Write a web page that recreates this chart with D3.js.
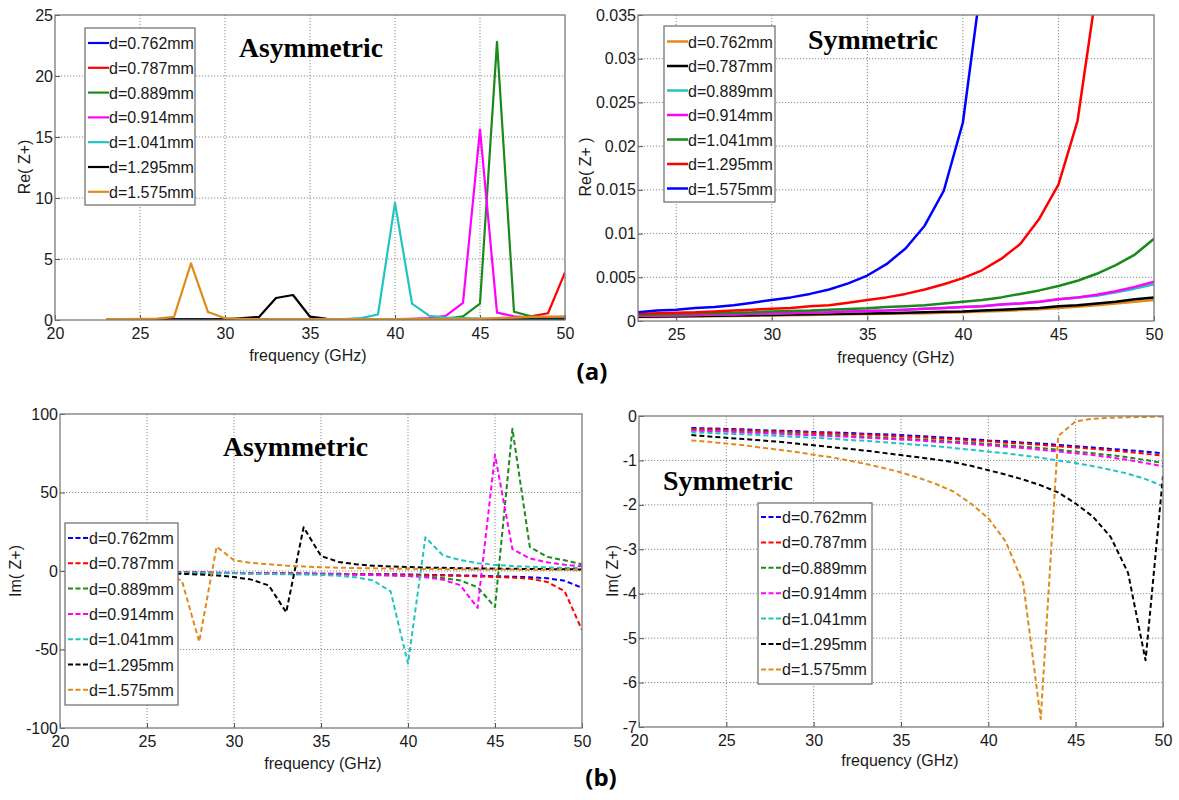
<!DOCTYPE html>
<html>
<head>
<meta charset="utf-8">
<script src="https://cdn.jsdelivr.net/npm/d3@7"></script>
<style>
  html, body { margin: 0; padding: 0; background: #fff; }
  svg { display: block; }
</style>
</head>
<body>
<svg id="fig" width="1179" height="800" font-family="'Liberation Sans', Arial, sans-serif"></svg>
<script>
// Frequency samples (GHz)
const freqs = [23,24,25,26,27,28,29,30,31,32,33,34,35,36,37,38,39,40,41,42,43,44,45,46,47,48,49,50];

// Substrate thicknesses shown in the legends
const thicknessLabels = ["d=0.762mm","d=0.787mm","d=0.889mm","d=0.914mm","d=1.041mm","d=1.295mm","d=1.575mm"];

// Line colours, asymmetric panels (legend order)
const asymColors = ["#0000ff","#ff0000","#1a8a1a","#ff00ff","#22c3c3","#000000","#e08a1c"];
// Line colours, symmetric Re panel (legend order)
const symReColors = ["#e08a1c","#000000","#22c3c3","#ff00ff","#1a8a1a","#ff0000","#0000ff"];
// Line colours, symmetric Im panel (legend order)
const symImColors = ["#0000ff","#ff0000","#1a8a1a","#ff00ff","#22c3c3","#000000","#e08a1c"];

// Re(Z+) asymmetric
const reAsym0762 = [0.03,0.03,0.03,0.03,0.03,0.03,0.03,0.03,0.03,0.03,0.03,0.03,0.03,0.03,0.03,0.03,0.03,0.03,0.03,0.03,0.03,0.03,0.03,0.04,0.05,0.06,0.08,0.1];
const reAsym0787 = [0.03,0.03,0.03,0.03,0.03,0.03,0.03,0.03,0.03,0.03,0.03,0.03,0.03,0.03,0.03,0.03,0.03,0.03,0.03,0.03,0.03,0.04,0.05,0.07,0.12,0.3,0.55,3.9];
const reAsym0889 = [0.03,0.03,0.03,0.03,0.03,0.03,0.03,0.03,0.03,0.03,0.03,0.03,0.03,0.03,0.03,0.03,0.03,0.03,0.04,0.06,0.1,0.3,1.35,22.8,0.68,0.3,0.2,0.15];
const reAsym0914 = [0.03,0.03,0.03,0.03,0.03,0.03,0.03,0.03,0.03,0.03,0.03,0.03,0.03,0.03,0.03,0.03,0.04,0.06,0.1,0.15,0.35,1.4,15.6,0.6,0.3,0.2,0.15,0.1];
const reAsym1041 = [0.03,0.03,0.03,0.03,0.03,0.03,0.03,0.03,0.03,0.03,0.03,0.03,0.03,0.03,0.08,0.15,0.45,9.6,1.35,0.35,0.2,0.15,0.12,0.1,0.1,0.1,0.1,0.1];
const reAsym1295 = [0.05,0.05,0.05,0.05,0.05,0.05,0.05,0.05,0.15,0.25,1.8,2.05,0.27,0.1,0.05,0.05,0.05,0.05,0.05,0.05,0.05,0.05,0.05,0.05,0.05,0.05,0.05,0.05];
const reAsym1575 = [0.08,0.08,0.09,0.12,0.25,4.65,0.65,0.15,0.1,0.08,0.08,0.08,0.08,0.08,0.08,0.08,0.08,0.08,0.1,0.1,0.1,0.1,0.1,0.15,0.2,0.25,0.28,0.3];

// Re(Z+) symmetric (curves that leave the top of the axes stop at their last sample)
const reSym0762 = [0.00045,0.00047,0.0005,0.00052,0.00055,0.00058,0.0006,0.00063,0.00066,0.0007,0.00073,0.00076,0.0008,0.00083,0.00087,0.0009,0.00095,0.001,0.00108,0.00115,0.00125,0.00135,0.0015,0.00163,0.0018,0.002,0.0022,0.0024];
const reSym0787 = [0.0005,0.00052,0.00055,0.00058,0.0006,0.00063,0.00066,0.0007,0.00073,0.00076,0.0008,0.00083,0.00087,0.0009,0.00095,0.001,0.00105,0.0011,0.0012,0.00128,0.0014,0.0015,0.0017,0.0018,0.002,0.0022,0.0025,0.0027];
const reSym0889 = [0.0006,0.00063,0.00066,0.0007,0.00074,0.00078,0.00082,0.00087,0.00092,0.00097,0.001,0.0011,0.00115,0.0012,0.0013,0.0014,0.0015,0.0016,0.0017,0.0019,0.002,0.0022,0.0025,0.0027,0.0029,0.0033,0.0037,0.0042];
const reSym0914 = [0.0006,0.00063,0.00066,0.0007,0.00074,0.00078,0.00082,0.00087,0.00092,0.00097,0.001,0.0011,0.00115,0.0012,0.0013,0.0014,0.0015,0.0016,0.0017,0.0019,0.002,0.0022,0.0025,0.0027,0.003,0.0034,0.0039,0.0045];
const reSym1041 = [0.0007,0.00075,0.0008,0.00085,0.0009,0.00095,0.001,0.0011,0.00115,0.0012,0.0013,0.00138,0.00145,0.0016,0.0017,0.0018,0.002,0.0022,0.0024,0.0027,0.0031,0.0035,0.004,0.0046,0.0054,0.0064,0.0076,0.0094];
const reSym1295 = [0.0008,0.0009,0.00095,0.001,0.0011,0.0012,0.0013,0.0014,0.0015,0.0017,0.0018,0.0021,0.0024,0.0027,0.0031,0.0036,0.0042,0.0049,0.0058,0.0071,0.0088,0.0117,0.0156,0.0229,0.038];
const reSym1575 = [0.001,0.0012,0.0013,0.0015,0.0016,0.0018,0.0021,0.0024,0.0027,0.0031,0.0036,0.0043,0.0052,0.0065,0.0083,0.0109,0.0149,0.0227,0.0393];

// Im(Z+) asymmetric
const imAsym0762 = [-0.5,-0.6,-0.7,-0.8,-0.9,-1.0,-1.1,-1.2,-1.3,-1.4,-1.5,-1.6,-1.7,-1.8,-1.9,-2.0,-2.1,-2.2,-2.4,-2.6,-2.8,-3.0,-3.3,-3.6,-4.0,-4.6,-6.2,-10.7];
const imAsym0787 = [-0.6,-0.7,-0.8,-0.9,-1.0,-1.1,-1.2,-1.3,-1.4,-1.5,-1.6,-1.7,-1.8,-1.9,-2.0,-2.1,-2.3,-2.5,-2.7,-2.9,-3.1,-3.4,-3.8,-4.2,-4.9,-7.0,-12.8,-37.6];
const imAsym0889 = [-0.6,-0.7,-0.8,-0.9,-1.0,-1.1,-1.2,-1.3,-1.4,-1.5,-1.6,-1.7,-1.9,-2.0,-2.2,-2.4,-2.7,-3.0,-3.5,-4.5,-6.0,-10.3,-23.0,90.6,15.4,9.0,6.8,4.3];
const imAsym0914 = [-0.6,-0.7,-0.8,-0.9,-1.0,-1.1,-1.2,-1.3,-1.4,-1.5,-1.7,-1.8,-2.0,-2.2,-2.4,-2.6,-2.9,-3.2,-4.0,-5.5,-9.0,-23.5,74.0,14.0,8.0,5.5,4.0,3.0];
const imAsym1041 = [-0.8,-0.9,-1.0,-1.1,-1.2,-1.3,-1.4,-1.5,-1.7,-1.9,-2.1,-2.3,-2.5,-3.0,-4.0,-6.0,-13.0,-59.0,21.5,10.0,7.0,5.0,3.9,3.2,2.7,2.3,2.0,1.8];
const imAsym1295 = [-1.0,-1.1,-1.3,-1.5,-1.8,-2.2,-2.8,-3.8,-5.5,-9.2,-26.3,27.8,9.6,5.8,4.3,3.4,2.9,2.5,2.2,2.0,1.8,1.6,1.5,1.4,1.3,1.2,1.1,1.0];
const imAsym1575 = [-1.5,-1.8,-2.2,-3.0,-6.0,-45.0,15.5,6.8,5.2,4.3,3.4,2.9,2.4,2.1,1.9,1.7,1.5,1.4,1.3,1.2,1.1,1.0,0.95,0.9,0.85,0.8,0.75,0.7];

// Im(Z+) symmetric
const imSym0762 = [-0.27,-0.28,-0.29,-0.30,-0.32,-0.33,-0.34,-0.36,-0.37,-0.38,-0.40,-0.41,-0.43,-0.45,-0.47,-0.50,-0.52,-0.55,-0.57,-0.60,-0.62,-0.65,-0.68,-0.71,-0.74,-0.77,-0.80,-0.84];
const imSym0787 = [-0.29,-0.30,-0.31,-0.32,-0.34,-0.35,-0.36,-0.38,-0.39,-0.41,-0.42,-0.44,-0.46,-0.48,-0.50,-0.52,-0.55,-0.57,-0.60,-0.62,-0.65,-0.68,-0.71,-0.74,-0.77,-0.81,-0.85,-0.89];
const imSym0889 = [-0.32,-0.33,-0.34,-0.36,-0.37,-0.38,-0.40,-0.42,-0.43,-0.45,-0.47,-0.49,-0.51,-0.53,-0.55,-0.58,-0.60,-0.63,-0.66,-0.69,-0.72,-0.76,-0.80,-0.84,-0.88,-0.93,-0.99,-1.06];
const imSym0914 = [-0.33,-0.34,-0.35,-0.37,-0.38,-0.40,-0.42,-0.43,-0.45,-0.47,-0.49,-0.51,-0.53,-0.55,-0.58,-0.60,-0.63,-0.66,-0.69,-0.72,-0.76,-0.80,-0.84,-0.88,-0.93,-0.99,-1.06,-1.13];
const imSym1041 = [-0.37,-0.38,-0.40,-0.41,-0.43,-0.45,-0.47,-0.49,-0.51,-0.54,-0.56,-0.59,-0.62,-0.65,-0.68,-0.72,-0.76,-0.80,-0.84,-0.89,-0.94,-1.00,-1.06,-1.13,-1.21,-1.30,-1.42,-1.58];
const imSym1295 = [-0.43,-0.46,-0.49,-0.52,-0.55,-0.58,-0.62,-0.66,-0.70,-0.74,-0.78,-0.83,-0.88,-0.93,-0.98,-1.04,-1.12,-1.22,-1.32,-1.43,-1.56,-1.72,-1.97,-2.27,-2.72,-3.53,-5.50,-1.35];
const imSym1575 = [-0.55,-0.58,-0.62,-0.66,-0.71,-0.76,-0.81,-0.87,-0.93,-1.00,-1.08,-1.17,-1.27,-1.39,-1.53,-1.70,-1.97,-2.30,-2.83,-3.77,-6.82,-0.45,-0.12,-0.06,-0.04,-0.03,-0.02,-0.01];

// Axis ticks
const freqTicksFull = [20,25,30,35,40,45,50];
const freqTicksSym = [25,30,35,40,45,50];
const reAsymTicks = [0,5,10,15,20,25];
const reSymTicks = [0,0.005,0.01,0.015,0.02,0.025,0.03,0.035];
const imAsymTicks = [-100,-50,0,50,100];
const imSymTicks = [-7,-6,-5,-4,-3,-2,-1,0];

const svg = d3.select("#fig");
const SANS = "'Liberation Sans', Arial, sans-serif";
const SERIF = "'Liberation Serif', 'Times New Roman', serif";

function drawPanel(p) {
  const g = svg.append("g");
  const x = d3.scaleLinear().domain(p.xDomain).range([p.x0, p.x1]);
  const y = d3.scaleLinear().domain(p.yDomain).range([p.y1, p.y0]);

  // dotted grid
  const grid = g.append("g").attr("stroke", "#8a8a8a").attr("stroke-width", 1)
    .attr("stroke-dasharray", "1.2,1.8");
  p.xTicks.filter(t => t > p.xDomain[0] && t < p.xDomain[1]).forEach(t => {
    grid.append("line").attr("x1", x(t)).attr("x2", x(t)).attr("y1", p.y0).attr("y2", p.y1);
  });
  p.yTicks.filter(t => t > p.yDomain[0] && t < p.yDomain[1]).forEach(t => {
    grid.append("line").attr("x1", p.x0).attr("x2", p.x1).attr("y1", y(t)).attr("y2", y(t));
  });

  // axes with inward ticks
  const xa = g.append("g").attr("transform", `translate(0,${p.y1})`)
    .call(d3.axisBottom(x).tickValues(p.xTicks).tickFormat(d => String(d)).tickSize(-5).tickPadding(8));
  const ya = g.append("g").attr("transform", `translate(${p.x0},0)`)
    .call(d3.axisLeft(y).tickValues(p.yTicks).tickFormat(d => String(d)).tickSize(-5).tickPadding(2));
  [xa, ya].forEach(a => {
    a.attr("font-family", null).attr("font-size", null);
    a.select(".domain").remove();
    a.selectAll(".tick line").attr("stroke", "#555");
    a.selectAll(".tick text").style("font-family", SANS)
      .style("font-size", "16px").attr("fill", "#1a1a1a");
  });

  // series
  const clipId = "clip" + p.id;
  g.append("clipPath").attr("id", clipId).append("rect")
    .attr("x", p.x0).attr("y", p.y0).attr("width", p.x1 - p.x0).attr("height", p.y1 - p.y0);
  const line = d3.line().x((d, i) => x(freqs[i])).y(d => y(d));
  const lines = g.append("g").attr("clip-path", `url(#${clipId})`);
  p.series.forEach((s, k) => {
    lines.append("path").attr("d", line(s)).attr("fill", "none")
      .attr("stroke", p.colors[k]).attr("stroke-width", p.lineWidth)
      .attr("stroke-linejoin", "round")
      .attr("stroke-dasharray", p.dashed ? "5,3" : null);
  });

  // frame
  g.append("rect").attr("x", p.x0).attr("y", p.y0).attr("width", p.x1 - p.x0).attr("height", p.y1 - p.y0)
    .attr("fill", "none").attr("stroke", "#7a7a7a").attr("stroke-width", 1.3);

  // axis titles
  g.append("text").attr("x", p.xLabelPos[0]).attr("y", p.xLabelPos[1]).attr("text-anchor", "middle")
    .style("font-family", SANS).style("font-size", "16px").attr("fill", "#1a1a1a").text("frequency (GHz)");
  g.append("text").attr("transform", `translate(${p.yLabelPos[0]},${p.yLabelPos[1]}) rotate(-90)`)
    .attr("text-anchor", "middle").style("font-family", SANS).style("font-size", "16px")
    .attr("fill", "#1a1a1a").text(p.yLabel);

  // panel title
  g.append("text").attr("x", p.titlePos[0]).attr("y", p.titlePos[1])
    .style("font-family", SERIF).style("font-weight", "bold").style("font-size", "27px")
    .attr("fill", "#000").attr("textLength", p.titleWidth)
    .attr("lengthAdjust", "spacingAndGlyphs").text(p.title);

  // legend
  const L = p.legend;
  const lg = g.append("g");
  lg.append("rect").attr("x", L.x).attr("y", L.y).attr("width", L.w).attr("height", L.h)
    .attr("fill", "#fff").attr("stroke", "#6a6a6a").attr("stroke-width", 1.2);
  thicknessLabels.forEach((lab, k) => {
    const cy = L.firstRow + k * L.step;
    lg.append("line").attr("x1", L.x + 3).attr("x2", L.x + 24).attr("y1", cy).attr("y2", cy)
      .attr("stroke", p.colors[k]).attr("stroke-width", p.lineWidth)
      .attr("stroke-dasharray", p.dashed ? "5,2.5" : null);
    lg.append("text").attr("x", L.x + 24).attr("y", cy + 6)
      .style("font-family", SANS).style("font-size", "16px")
      .attr("fill", "#1a1a1a").text(lab);
  });
}

drawPanel({
  id: "A", x0: 55, x1: 565, y0: 15, y1: 320,
  xDomain: [20, 50], yDomain: [0, 25], xTicks: freqTicksFull, yTicks: reAsymTicks,
  series: [reAsym0762, reAsym0787, reAsym0889, reAsym0914, reAsym1041, reAsym1295, reAsym1575],
  colors: asymColors, dashed: false, lineWidth: 2.2,
  yLabel: "Re( Z+)", yLabelPos: [30, 167], xLabelPos: [308, 361],
  title: "Asymmetric", titlePos: [239, 57], titleWidth: 144,
  legend: { x: 85, y: 28, w: 110, h: 177, firstRow: 43, step: 24.8 }
});

drawPanel({
  id: "B", x0: 638, x1: 1154, y0: 15, y1: 321,
  xDomain: [23, 50], yDomain: [0, 0.035], xTicks: freqTicksSym, yTicks: reSymTicks,
  series: [reSym0762, reSym0787, reSym0889, reSym0914, reSym1041, reSym1295, reSym1575],
  colors: symReColors, dashed: false, lineWidth: 2.5,
  yLabel: "Re( Z+ )", yLabelPos: [591, 167], xLabelPos: [896, 363],
  title: "Symmetric", titlePos: [808, 49], titleWidth: 130,
  legend: { x: 664, y: 26, w: 111, h: 176, firstRow: 41.5, step: 24.5 }
});

drawPanel({
  id: "C", x0: 60, x1: 582, y0: 414, y1: 728,
  xDomain: [20, 50], yDomain: [-100, 100], xTicks: freqTicksFull, yTicks: imAsymTicks,
  series: [imAsym0762, imAsym0787, imAsym0889, imAsym0914, imAsym1041, imAsym1295, imAsym1575],
  colors: asymColors, dashed: true, lineWidth: 2,
  yLabel: "Im( Z+)", yLabelPos: [21, 571], xLabelPos: [323, 769],
  title: "Asymmetric", titlePos: [223, 456], titleWidth: 145,
  legend: { x: 65, y: 523, w: 113, h: 182, firstRow: 538, step: 25.3 }
});

drawPanel({
  id: "D", x0: 639, x1: 1163, y0: 416, y1: 727,
  xDomain: [20, 50], yDomain: [-7, 0], xTicks: freqTicksFull, yTicks: imSymTicks,
  series: [imSym0762, imSym0787, imSym0889, imSym0914, imSym1041, imSym1295, imSym1575],
  colors: symImColors, dashed: true, lineWidth: 2,
  yLabel: "Im( Z+)", yLabelPos: [618, 571], xLabelPos: [900, 766],
  title: "Symmetric", titlePos: [663, 490], titleWidth: 130,
  legend: { x: 758, y: 503, w: 114, h: 181, firstRow: 517, step: 25.4 }
});

// sub-figure captions
svg.append("text").attr("x", 592).attr("y", 380).attr("text-anchor", "middle")
  .style("font-family", "'Open Sans', 'Liberation Sans', sans-serif").style("font-weight", "bold")
  .style("font-size", "24px").attr("fill", "#000").text("(a)");
svg.append("text").attr("x", 601).attr("y", 786).attr("text-anchor", "middle")
  .style("font-family", "'Open Sans', 'Liberation Sans', sans-serif").style("font-weight", "bold")
  .style("font-size", "24px").attr("fill", "#000").text("(b)");
</script>
</body>
</html>
